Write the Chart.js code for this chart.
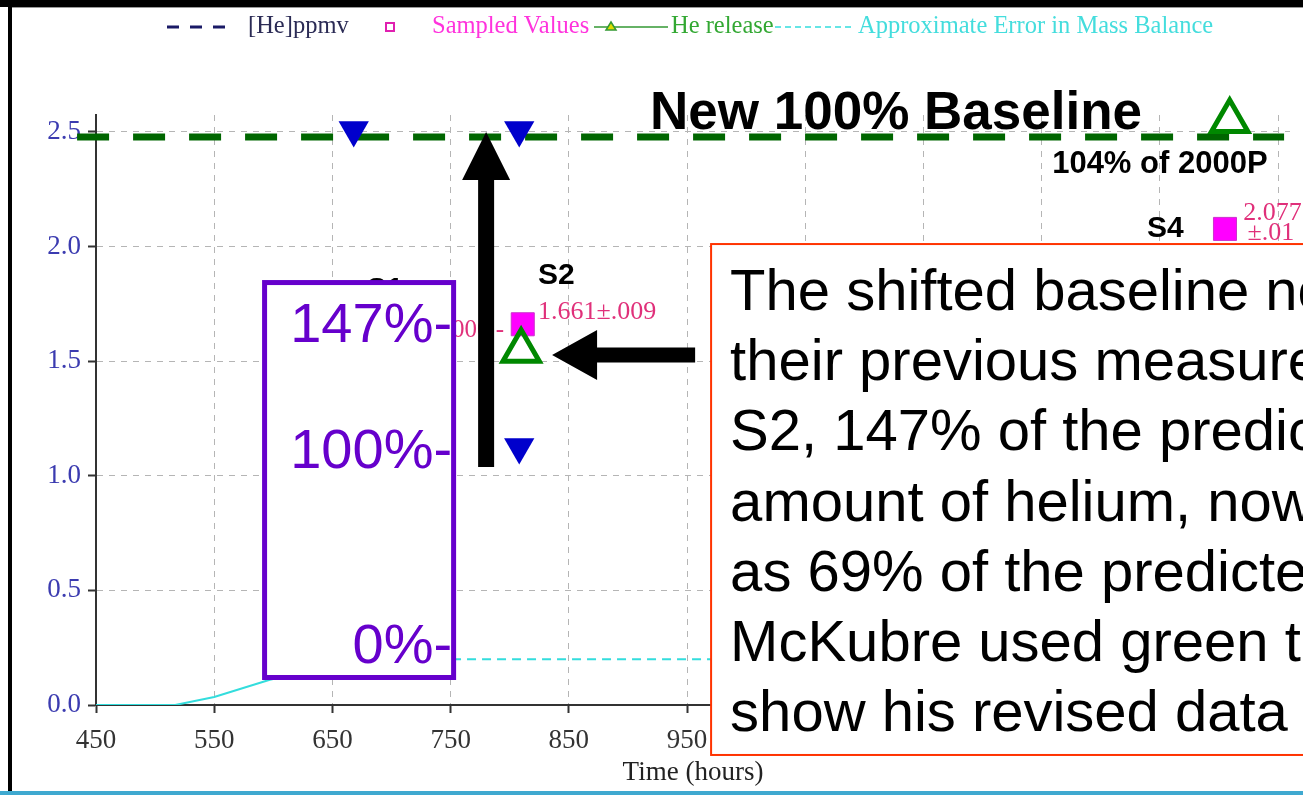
<!DOCTYPE html>
<html>
<head>
<meta charset="utf-8">
<script src="https://cdn.jsdelivr.net/npm/chart.js@4.4.1/dist/chart.umd.min.js"></script>
<style>
  html, body { margin: 0; padding: 0; background: #fff; }
  #wrap { width: 1303px; height: 795px; }
</style>
</head>
<body>
<div id="wrap"><canvas id="he-chart" width="1303" height="795"></canvas></div>
<script>
// axis ticks
const timeTicks = [450, 550, 650, 750, 850, 950, 1050, 1150, 1250, 1350, 1450];
const valueTicks = [0, 0.5, 1.0, 1.5, 2.0, 2.5];

// new 100% baseline (green dashed)
const baselineTime = [434, 1455];
const baselineValue = [2.478, 2.478];

// approximate error in mass balance (cyan)
const errorTime = [450, 517, 550, 597, 650, 700, 760, 1000];
const errorValue = [0, 0, 0.035, 0.11, 0.17, 0.2, 0.2, 0.2];

// [He]ppmv markers (blue down triangles)
const heTime = [668, 808, 808];
const heValue = [2.509, 2.509, 1.126];

// sampled values (magenta squares)
const sampleTime = [811, 1405];
const sampleValue = [1.661, 2.077];

// he release, revised (green open triangles)
const releaseTime = [809.6, 1409];
const releaseValue = [1.545, 2.548];

const noteLines = [
  'The shifted baseline now',
  'their previous measurement of',
  'S2, 147% of the predicted',
  'amount of helium, now',
  'as 69% of the predicted',
  'McKubre used green to',
  'show his revised data'
];

const pts = (xs, ys) => xs.map((x, i) => ({ x: x, y: ys[i] }));

const SANS = '"Liberation Sans", Arial, sans-serif';
const SERIF = '"Liberation Serif", "Times New Roman", serif';

function arrow(ctx, x0, y0, x1, y1, shaft, headLen, headHalf) {
  const dx = x1 - x0, dy = y1 - y0;
  const len = Math.hypot(dx, dy);
  const ux = dx / len, uy = dy / len;
  const nx = -uy, ny = ux;
  const bx = x1 - ux * headLen, by = y1 - uy * headLen;
  const s = shaft / 2;
  ctx.beginPath();
  ctx.moveTo(x0 + nx * s, y0 + ny * s);
  ctx.lineTo(bx + nx * s, by + ny * s);
  ctx.lineTo(bx + nx * headHalf, by + ny * headHalf);
  ctx.lineTo(x1, y1);
  ctx.lineTo(bx - nx * headHalf, by - ny * headHalf);
  ctx.lineTo(bx - nx * s, by - ny * s);
  ctx.lineTo(x0 - nx * s, y0 - ny * s);
  ctx.closePath();
  ctx.fill();
}

const overlay = {
  id: 'overlay',
  afterDraw(chart) {
    const { ctx } = chart;
    const sx = chart.scales.x, sy = chart.scales.y;
    const px = v => sx.getPixelForValue(v);
    const py = v => sy.getPixelForValue(v);
    const text = (str, xv, yv, font, color, align) => {
      ctx.font = font;
      ctx.fillStyle = color;
      ctx.textAlign = align || 'left';
      ctx.textBaseline = 'alphabetic';
      ctx.fillText(str, px(xv), py(yv));
    };
    ctx.save();

    // S1 label, mostly hidden behind the purple box
    text('S1', 679, 1.776, 'bold 30px ' + SANS, '#000');
    text('1.000±.000 -', 795.2, 1.606, '25px ' + SERIF, '#e0307a', 'right');

    // purple box
    const bx0 = px(592.6), by0 = py(1.843), bx1 = px(752.5), by1 = py(0.12);
    ctx.fillStyle = '#fff';
    ctx.fillRect(bx0, by0, bx1 - bx0, by1 - by0);
    ctx.strokeStyle = '#6600cc';
    ctx.lineWidth = 5;
    ctx.strokeRect(bx0, by0, bx1 - bx0, by1 - by0);
    text('147%-', 751.2, 1.584, '56px ' + SANS, '#6600cc', 'right');
    text('100%-', 751.2, 1.034, '56px ' + SANS, '#6600cc', 'right');
    text('0%-', 751.2, 0.183, '56px ' + SANS, '#6600cc', 'right');

    // point labels
    text('S2', 823.9, 1.837, 'bold 30px ' + SANS, '#000');
    text('1.661±.009', 823.9, 1.684, '26px ' + SERIF, '#e0307a');
    text('S4', 1339, 2.042, 'bold 30px ' + SANS, '#000');
    text('2.077', 1420.5, 2.116, '26px ' + SERIF, '#e0307a');
    text('±.01', 1424, 2.029, '26px ' + SERIF, '#e0307a');
    text('New 100% Baseline', 918.7, 2.513, 'bold 53px ' + SANS, '#000');
    text('104% of 2000P', 1258.8, 2.321, 'bold 31px ' + SANS, '#000');

    // arrows
    ctx.fillStyle = '#000';
    arrow(ctx, px(780), py(1.038), px(780), py(2.5), 16, 48, 24);
    arrow(ctx, px(956.8), py(1.527), px(835.8), py(1.527), 15, 45, 25);

    // red note box
    const rx0 = px(970.3), ry0 = py(2.011), rx1 = px(1500), ry1 = py(-0.218);
    ctx.fillStyle = '#fff';
    ctx.fillRect(rx0, ry0, rx1 - rx0, ry1 - ry0);
    ctx.strokeStyle = '#ff3300';
    ctx.lineWidth = 2;
    ctx.strokeRect(rx0, ry0, rx1 - rx0, ry1 - ry0);
    ctx.font = '58px ' + SANS;
    ctx.fillStyle = '#000';
    ctx.textAlign = 'left';
    noteLines.forEach((line, i) => {
      ctx.fillText(line, px(986.4), py(1.723) + i * 70.2);
    });

    // legend across the top
    const ly = 27;
    ctx.textBaseline = 'middle';
    ctx.font = '24.5px ' + SERIF;
    ctx.lineWidth = 3;
    ctx.strokeStyle = '#1a1a66';
    ctx.setLineDash([12, 11]);
    ctx.beginPath(); ctx.moveTo(167, ly); ctx.lineTo(226, ly); ctx.stroke();
    ctx.setLineDash([]);
    ctx.fillStyle = '#2b2b55';
    ctx.fillText('[He]ppmv', 248, ly);
    ctx.strokeStyle = '#e020b0';
    ctx.lineWidth = 2;
    ctx.strokeRect(386, ly - 4, 8, 8);
    ctx.fillStyle = '#ff33dd';
    ctx.fillText('Sampled Values', 432, ly);
    ctx.strokeStyle = '#339933';
    ctx.lineWidth = 1.5;
    ctx.beginPath(); ctx.moveTo(594, ly); ctx.lineTo(668, ly); ctx.stroke();
    ctx.fillStyle = '#dddd00';
    ctx.beginPath(); ctx.moveTo(611, ly - 5); ctx.lineTo(616, ly + 3); ctx.lineTo(606, ly + 3); ctx.closePath();
    ctx.fill(); ctx.stroke();
    ctx.fillStyle = '#33a833';
    ctx.fillText('He release', 671, ly);
    ctx.strokeStyle = '#33dddd';
    ctx.setLineDash([6, 4]);
    ctx.beginPath(); ctx.moveTo(775, ly); ctx.lineTo(854, ly); ctx.stroke();
    ctx.setLineDash([]);
    ctx.fillStyle = '#44dddd';
    ctx.fillText('Approximate Error in Mass Balance', 858, ly);

    // window frame
    ctx.fillStyle = '#000';
    ctx.fillRect(0, 0, 1303, 7);
    ctx.fillRect(8, 0, 4, 795);
    ctx.fillStyle = '#999';
    ctx.fillRect(12, 7, 1291, 1);
    ctx.fillStyle = '#3fa9d0';
    ctx.fillRect(0, 791, 1303, 4);

    ctx.restore();
  }
};

const ctx = document.getElementById('he-chart').getContext('2d');
new Chart(ctx, {
  type: 'scatter',
  data: {
    datasets: [
      {
        label: 'New baseline',
        data: pts(baselineTime, baselineValue),
        showLine: true,
        borderColor: '#006600',
        borderWidth: 7,
        borderDash: [32, 24],
        pointRadius: 0,
        clip: false,
        order: 5
      },
      {
        label: 'Approximate Error in Mass Balance',
        data: pts(errorTime, errorValue),
        showLine: true,
        borderColor: '#33dddd',
        borderWidth: 2,
        pointRadius: 0,
        segment: {
          borderDash: c => (c.p0.parsed.x >= 650 ? [9, 6] : undefined)
        },
        order: 4
      },
      {
        label: 'Sampled Values',
        data: pts(sampleTime, sampleValue),
        pointStyle: 'rect',
        pointRadius: 16.3,
        backgroundColor: '#ff00ff',
        borderColor: '#cc33cc',
        borderWidth: 1,
        clip: false,
        order: 3
      },
      {
        label: 'He release',
        data: pts(releaseTime, releaseValue),
        pointStyle: 'triangle',
        pointRadius: 21,
        backgroundColor: 'rgba(0,0,0,0)',
        borderColor: '#008800',
        borderWidth: 5,
        clip: false,
        order: 2
      },
      {
        label: '[He]ppmv',
        data: pts(heTime, heValue),
        pointStyle: 'triangle',
        rotation: 180,
        pointRadius: 17.5,
        backgroundColor: '#0000cc',
        borderWidth: 0,
        clip: false,
        order: 1
      }
    ]
  },
  options: {
    responsive: false,
    animation: false,
    devicePixelRatio: 1,
    events: [],
    layout: { autoPadding: false, padding: { top: 115, right: 13, left: 0, bottom: 0 } },
    plugins: {
      legend: { display: false },
      tooltip: { enabled: false }
    },
    scales: {
      x: {
        type: 'linear',
        min: 450,
        max: 1460,
        afterBuildTicks: s => { s.ticks = timeTicks.map(v => ({ value: v })); },
        afterFit: s => { s.height = 90; s.paddingLeft = 0; s.paddingRight = 0; },
        ticks: {
          color: '#333',
          padding: 12,
          font: { family: SERIF, size: 27 },
          // labels past 950 sit under the note box anyway
          callback: v => (v <= 950 ? String(v) : '')
        },
        grid: {
          color: '#b5b5b5',
          lineWidth: 1,
          tickColor: '#333',
          tickWidth: 2,
          tickLength: 8
        },
        border: { color: '#333', width: 2, dash: [6, 6] },
        title: {
          display: true,
          text: 'Time (hours)',
          color: '#222',
          font: { family: SERIF, size: 27 },
          padding: { top: 0, bottom: 6 }
        }
      },
      y: {
        type: 'linear',
        min: 0,
        max: 2.574,
        afterBuildTicks: s => { s.ticks = valueTicks.map(v => ({ value: v })); },
        afterFit: s => { s.width = 96; s.paddingTop = 0; s.paddingBottom = 0; },
        ticks: {
          color: '#3b3bb0',
          padding: 7,
          font: { family: SERIF, size: 27 },
          callback: v => v.toFixed(1)
        },
        grid: {
          color: '#b5b5b5',
          lineWidth: 1,
          tickColor: '#333',
          tickWidth: 2,
          tickLength: 8
        },
        border: { color: '#333', width: 2, dash: [6, 6] }
      }
    }
  },
  plugins: [overlay]
});
</script>
</body>
</html>
